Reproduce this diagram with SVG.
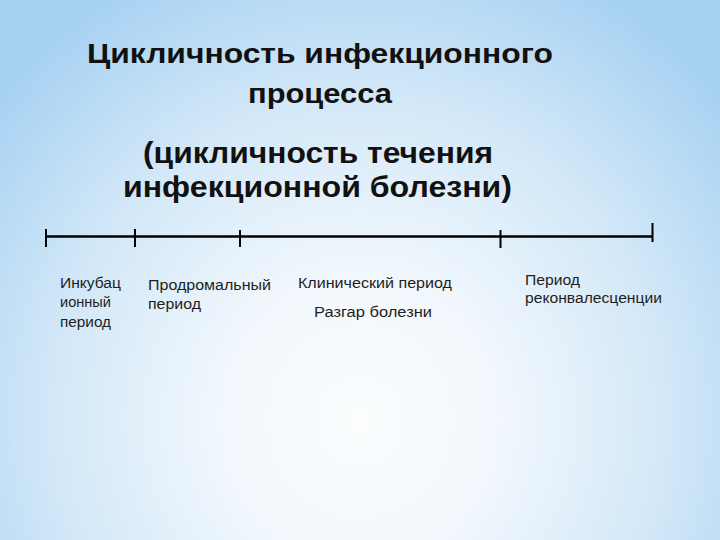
<svg xmlns="http://www.w3.org/2000/svg" width="720" height="540" viewBox="0 0 720 540">
  <defs>
    <radialGradient id="bg" gradientUnits="userSpaceOnUse" cx="360" cy="420" r="470" gradientTransform="translate(360 420) scale(1 1.05) translate(-360 -420)">
      <stop offset="0" stop-color="#fbfdfe"/>
      <stop offset="0.3" stop-color="#f1f7fc"/>
      <stop offset="0.65" stop-color="#d3e8f8"/>
      <stop offset="1" stop-color="#a8d2f2"/>
    </radialGradient>
    <style>
      .title { font-family: "Liberation Sans", Arial, sans-serif; font-weight: bold; fill: #111111; }
      .label { font-family: "Liberation Sans", Arial, sans-serif; font-size: 14px; fill: #1e1e1e; }
      .axis { stroke: #000000; stroke-width: 2.6; fill: none; }
      .tick { stroke: #000000; stroke-width: 2; fill: none; }
    </style>
  </defs>
  <rect x="0" y="0" width="720" height="540" fill="url(#bg)"/>

  <g id="title">
    <text class="title" x="87" y="63" font-size="27" textLength="466" lengthAdjust="spacingAndGlyphs">Цикличность инфекционного</text>
    <text class="title" x="248" y="103" font-size="27" textLength="144" lengthAdjust="spacingAndGlyphs">процесса</text>
  </g>
  <g id="subtitle">
    <text class="title" x="143" y="163" font-size="29" textLength="350" lengthAdjust="spacingAndGlyphs">(цикличность течения</text>
    <text class="title" x="123" y="197" font-size="29" textLength="389" lengthAdjust="spacingAndGlyphs">инфекционной болезни)</text>
  </g>

  <g id="connectors">
    <line class="axis" x1="46" y1="236.5" x2="652" y2="236.5"/>
    <line class="tick" x1="46" y1="229" x2="46" y2="247"/>
    <line class="tick" x1="135" y1="229" x2="135" y2="247"/>
    <line class="tick" x1="240" y1="230" x2="240" y2="247"/>
    <line class="tick" x1="500.5" y1="230" x2="500.5" y2="248"/>
    <line class="tick" x1="652.5" y1="223" x2="652.5" y2="242"/>
  </g>

  <g id="incubation">
    <text class="label" x="60" y="288" textLength="61" lengthAdjust="spacingAndGlyphs">Инкубац</text>
    <text class="label" x="60" y="307" textLength="51" lengthAdjust="spacingAndGlyphs">ионный</text>
    <text class="label" x="60" y="327" textLength="51" lengthAdjust="spacingAndGlyphs">период</text>
  </g>
  <g id="prodromal">
    <text class="label" x="148" y="290" textLength="123" lengthAdjust="spacingAndGlyphs">Продромальный</text>
    <text class="label" x="148" y="309" textLength="53" lengthAdjust="spacingAndGlyphs">период</text>
  </g>
  <g id="clinical">
    <text class="label" x="298" y="288" textLength="154" lengthAdjust="spacingAndGlyphs">Клинический период</text>
    <text class="label" x="314" y="317" textLength="118" lengthAdjust="spacingAndGlyphs">Разгар болезни</text>
  </g>
  <g id="convalescence">
    <text class="label" x="525" y="285" textLength="55" lengthAdjust="spacingAndGlyphs">Период</text>
    <text class="label" x="525" y="303" textLength="137" lengthAdjust="spacingAndGlyphs">реконвалесценции</text>
  </g>
</svg>
